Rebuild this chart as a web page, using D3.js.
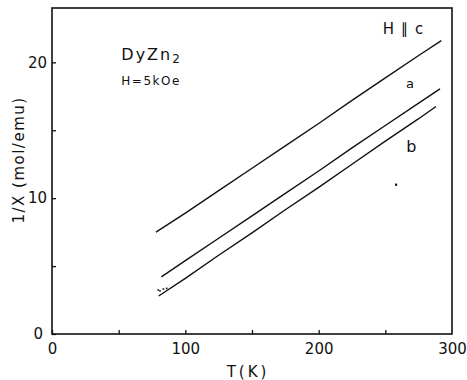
<!DOCTYPE html>
<html>
<head>
<meta charset="utf-8">
<script src="https://cdn.jsdelivr.net/npm/d3@7/dist/d3.min.js"></script>
<style>
  html, body { margin: 0; padding: 0; background: #fff; }
  svg { display: block; }
  text { font-family: "DejaVu Sans", sans-serif; fill: #111; }
</style>
</head>
<body>
<svg id="chart" width="467" height="380"></svg>
<script>
// Inverse susceptibility of DyZn2 vs temperature, H = 5 kOe, three field directions
const seriesNames = ["c", "a", "b"];
const tempC = [78, 100, 125, 150, 175, 200, 225, 250, 275, 292];
const invChiC = [7.5, 8.9, 10.55, 12.2, 13.85, 15.5, 17.2, 18.85, 20.5, 21.6];
const tempA = [82, 100, 125, 150, 175, 200, 225, 250, 275, 291];
const invChiA = [4.2, 5.4, 7.05, 8.7, 10.35, 12.0, 13.7, 15.35, 17.0, 18.05];
const tempB = [80, 100, 125, 150, 175, 200, 225, 250, 275, 288];
const invChiB = [2.8, 4.1, 5.8, 7.45, 9.15, 10.8, 12.5, 14.2, 15.85, 16.75];
// scattered low-temperature points near the start of the b curve
const dotsT = [79.7, 81, 83.5, 86];
const dotsV = [3.24, 3.17, 3.31, 3.36];

const xTicks = [0, 50, 100, 150, 200, 250, 300];
const xTickLabels = ["0", "", "100", "", "200", "", "300"];
const yTicks = [0, 5, 10, 15, 20];
const yTickLabels = ["0", "", "10", "", "20"];

const margin = { top: 8, right: 15, bottom: 46, left: 52 };
const W = 467, H = 380;
const iw = W - margin.left - margin.right;
const ih = H - margin.top - margin.bottom;

const svg = d3.select("#chart");
const g = svg.append("g").attr("transform", `translate(${margin.left},${margin.top})`);

const x = d3.scaleLinear().domain([0, 300]).range([0, iw]);
const y = d3.scaleLinear().domain([0, 24]).range([ih, 0]);

// frame
g.append("rect")
  .attr("x", 0).attr("y", 0).attr("width", iw).attr("height", ih)
  .attr("fill", "none").attr("stroke", "#111").attr("stroke-width", 1.6);

// axes with inward ticks
const xAxis = d3.axisBottom(x)
  .tickValues(xTicks)
  .tickSize(-4)
  .tickPadding(9)
  .tickFormat((d, i) => xTickLabels[i]);
const gx = g.append("g").attr("transform", `translate(0,${ih})`).call(xAxis);

const yAxis = d3.axisLeft(y)
  .tickValues(yTicks)
  .tickSize(-4)
  .tickPadding(5)
  .tickFormat((d, i) => yTickLabels[i]);
const gy = g.append("g").call(yAxis);

[gx, gy].forEach(a => {
  a.select(".domain").remove();
  a.selectAll(".tick line").attr("stroke", "#111").attr("stroke-width", 1.3);
  a.selectAll(".tick text").style("font-size", "15px").attr("fill", "#111");
});
gx.selectAll(".tick").filter(d => d === 300).select("line").remove();
gy.selectAll(".tick").filter(d => d === 0)
  .select("text").attr("dx", "-4px");

// curves
const line = d3.line().x(d => x(d[0])).y(d => y(d[1]));
const curves = [
  d3.zip(tempC, invChiC),
  d3.zip(tempA, invChiA),
  d3.zip(tempB, invChiB)
];
g.selectAll("path.curve")
  .data(curves)
  .join("path")
  .attr("class", "curve")
  .attr("d", line)
  .attr("fill", "none")
  .attr("stroke", "#111")
  .attr("stroke-width", 1.4);

g.selectAll("rect.dot")
  .data(d3.zip(dotsT, dotsV))
  .join("rect")
  .attr("class", "dot")
  .attr("x", d => x(d[0]) - 0.8)
  .attr("y", d => y(d[1]) - 0.8)
  .attr("width", 1.6).attr("height", 1.6)
  .attr("fill", "#111");

// stray point near the b curve label
g.append("rect")
  .attr("x", x(258) - 1).attr("y", y(11.0) - 1)
  .attr("width", 2.2).attr("height", 2.2)
  .attr("fill", "#111");

// annotations
const dy = g.append("text")
  .attr("x", x(52)).attr("y", y(20.2))
  .style("font-size", "16px").style("letter-spacing", "2px");
dy.append("tspan").text("DyZn");
dy.append("tspan").attr("dy", 3).style("font-size", "12px").text("2");

g.append("text")
  .attr("x", x(52)).attr("y", y(18.35))
  .style("font-size", "12px").style("letter-spacing", "1.5px")
  .text("H=5kOe");

g.append("text")
  .attr("x", x(248)).attr("y", y(22.1))
  .style("font-size", "15px").style("letter-spacing", "1px")
  .text("H ∥ c");

g.append("text")
  .attr("x", x(268.5)).attr("y", y(18.1))
  .attr("text-anchor", "middle")
  .style("font-size", "13px")
  .text(seriesNames[1]);

g.append("text")
  .attr("x", x(269.5)).attr("y", y(13.4))
  .attr("text-anchor", "middle")
  .style("font-size", "16px")
  .text(seriesNames[2]);

// axis titles
svg.append("text")
  .attr("x", margin.left + x(147)).attr("y", 377)
  .attr("text-anchor", "middle")
  .style("font-size", "15px").style("letter-spacing", "3px")
  .text("T(K)");

svg.append("text")
  .attr("transform", "translate(24,160) rotate(-90)")
  .attr("text-anchor", "middle")
  .style("font-size", "15px").style("letter-spacing", "1.5px")
  .text("1/X (mol/emu)");
</script>
</body>
</html>
